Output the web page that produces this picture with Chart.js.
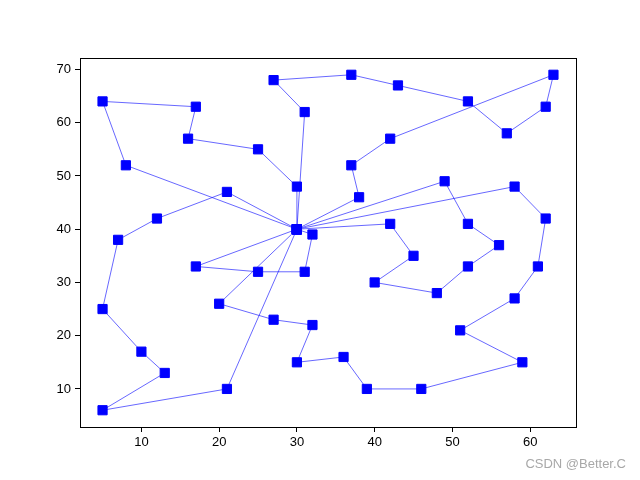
<!DOCTYPE html>
<html>
<head>
<meta charset="utf-8">
<script src="https://cdn.jsdelivr.net/npm/chart.js@4"></script>
<style>
  html, body { margin: 0; padding: 0; background: #fff; }
  #wrap { position: relative; width: 640px; height: 480px; }
  #watermark {
    position: absolute; right: 14px; top: 456px;
    font-family: "Liberation Sans", Arial, sans-serif; font-size: 13px; color: #a8a8a8;
  }
</style>
</head>
<body>
<div id="wrap">
  <canvas id="routeChart" width="640" height="480"></canvas>
  <div id="watermark">CSDN @Better.C</div>
</div>
<script>
// depot is (30, 40); every route starts and ends there
const route1X = [30, 30, 25, 16, 17, 5, 8, 30];
const route1Y = [40, 48, 55, 57, 63, 64, 52, 40];
const route2X = [30, 21, 12, 7, 5, 10, 13, 5, 21, 30];
const route2Y = [40, 47, 42, 38, 25, 17, 13, 6, 10, 40];
const route3X = [30, 31, 27, 37, 43, 52, 57, 62, 63, 42, 37, 38, 30];
const route3Y = [40, 62, 68, 69, 67, 64, 58, 63, 69, 57, 52, 46, 40];
const route4X = [30, 49, 52, 56, 52, 48, 40, 45, 42, 30];
const route4Y = [40, 49, 41, 37, 33, 28, 30, 35, 41, 40];
const route5X = [30, 58, 62, 61, 58, 51, 59, 46, 39, 36, 30, 32, 27, 20, 30];
const route5Y = [40, 48, 42, 33, 27, 21, 15, 10, 10, 16, 15, 22, 23, 26, 40];
const route6X = [30, 17, 25, 31, 32, 30];
const route6Y = [40, 33, 32, 32, 39, 40];

const xTicks = [10, 20, 30, 40, 50, 60];
const yTicks = [10, 20, 30, 40, 50, 60, 70];

const routes = [
    [route1X, route1Y], [route2X, route2Y], [route3X, route3Y],
    [route4X, route4Y], [route5X, route5Y], [route6X, route6Y]
];

const datasets = routes.map(([xs, ys]) => ({
    data: xs.map((x, i) => ({ x: x, y: ys[i] })),
    showLine: true,
    borderColor: '#0000ff',
    borderWidth: 0.6,
    backgroundColor: '#0000ff',
    pointStyle: 'rect',
    pointRadius: 6.5,
    pointBorderWidth: 1,
    pointBorderColor: '#0000ff',
    pointBackgroundColor: '#0000ff'
}));

// full black frame like matplotlib's axes box
const frameBox = {
    id: 'frameBox',
    afterDraw(chart) {
        const { ctx, chartArea: a } = chart;
        ctx.save();
        ctx.strokeStyle = '#000';
        ctx.lineWidth = 1;
        ctx.strokeRect(Math.round(a.left) + 0.5, Math.round(a.top) + 0.5,
            Math.round(a.right - a.left), Math.round(a.bottom - a.top));
        ctx.restore();
    }
};

const tickFont = { family: '"Liberation Sans", Arial, sans-serif', size: 13 };

new Chart(document.getElementById('routeChart').getContext('2d'), {
    type: 'scatter',
    data: { datasets: datasets },
    plugins: [frameBox],
    options: {
        responsive: false,
        animation: false,
        events: [],
        layout: { padding: { top: 58, right: 64, left: 0, bottom: 0 } },
        plugins: { legend: { display: false }, tooltip: { enabled: false } },
        scales: {
            x: {
                min: 2.1,
                max: 65.9,
                afterBuildTicks: (s) => { s.ticks = xTicks.map(v => ({ value: v })); },
                afterFit: (s) => { s.height = 53; },
                grid: { drawOnChartArea: false, drawTicks: true, tickLength: 5, color: '#000' },
                border: { color: '#000', width: 1 },
                ticks: { color: '#000', font: tickFont, padding: 3, maxRotation: 0 }
            },
            y: {
                min: 2.85,
                max: 72.15,
                afterBuildTicks: (s) => { s.ticks = yTicks.map(v => ({ value: v })); },
                afterFit: (s) => { s.width = 80; },
                grid: { drawOnChartArea: false, drawTicks: true, tickLength: 5, color: '#000' },
                border: { color: '#000', width: 1 },
                ticks: { color: '#000', font: tickFont, padding: 4 }
            }
        }
    }
});
</script>
</body>
</html>
